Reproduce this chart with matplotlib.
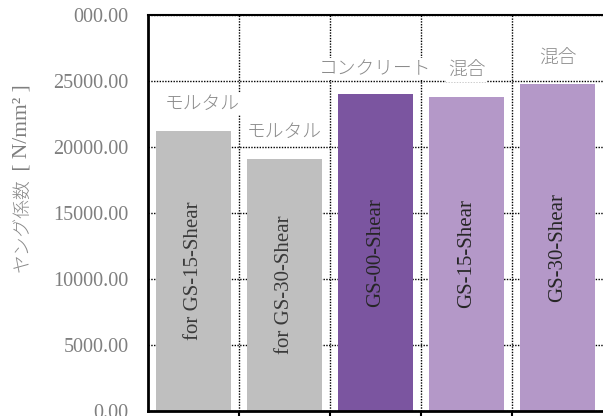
import matplotlib.pyplot as plt
import numpy as np

# data
names = ['for GS-15-Shear', 'for GS-30-Shear', 'GS-00-Shear', 'GS-15-Shear', 'GS-30-Shear']
values = [21200, 19100, 24000, 23800, 24800]
materials = ['モルタル', 'モルタル', 'コンクリート', '混合', '混合']
yticks = [0, 5000, 10000, 15000, 20000, 25000, 30000]
ytick_labels = ['0.00', '5000.00', '10000.00', '15000.00', '20000.00', '25000.00', '000.00']
ylabel_jp = 'ヤング係数'
ylabel_unit = ' [ N/mm² ]'

colors = ['#BFBFBF', '#BFBFBF', '#7B55A0', '#B498C8', '#B498C8']
text_colors = ['#3A3A3A', '#3A3A3A', '#262626', '#262626', '#262626']
label_offsets = [(6, 19.5), (0, 19.5), (0, 18), (0, 19), (0, 18)]  # points

serif = ['Liberation Serif', 'Noto Sans CJK JP']
cjk = ['Noto Sans CJK JP', 'DejaVu Sans']

fig = plt.figure(figsize=(6.03, 4.16), dpi=100)
ax = fig.add_axes([148 / 603, 5 / 416, 455 / 603, 396 / 416])

x = np.arange(len(values))
ax.bar(x, values, width=0.835, color=colors, zorder=2)

ax.set_xlim(-0.5, 4.5)
ax.set_ylim(0, 30000)

ax.set_yticks(yticks)
ax.set_yticklabels(ytick_labels, family=serif, fontsize=14.5, color='#7F7F7F')
ax.tick_params(axis='y', length=0, pad=14)

ax.set_xticks([])
ax.set_xticks(np.arange(0.5, 4.5, 1), minor=True)
ax.tick_params(axis='x', which='minor', direction='out', length=5, width=1.5, color='black')
ax.set_xticklabels([], minor=True)

ax.grid(axis='y', which='major', color='black', linestyle=(0, (1, 1)), linewidth=1, zorder=0)
ax.grid(axis='x', which='minor', color='black', linestyle=(0, (1, 1)), linewidth=1, zorder=0)
ax.set_axisbelow(True)

for s in ['left', 'bottom']:
    ax.spines[s].set_linewidth(2)
ax.spines['top'].set_linewidth(1.5)
ax.spines['right'].set_visible(False)

for i, (v, nm, mat) in enumerate(zip(values, names, materials)):
    ax.text(i, v / 2, nm, rotation=90, ha='center', va='center',
            family=serif, fontsize=15, color=text_colors[i], zorder=3)
    dx, dy = label_offsets[i]
    ax.annotate(mat, (i, v), xytext=(dx, dy), textcoords='offset points',
                ha='center', va='center', family=cjk, fontsize=13.5,
                color='#8A8A8A', zorder=4, fontweight='light',
                bbox=dict(facecolor='white', edgecolor='none', pad=1.5))

# y label: Japanese part and the unit part drawn one after the other
fig.text(0.037, 1 - 272 / 416, ylabel_jp, rotation=90, ha='center', va='bottom',
         family=cjk, fontsize=13.5, color='#8A8A8A', fontweight='light')
fig.text(0.037, 1 - 176 / 416, ylabel_unit, rotation=90, ha='center', va='bottom',
         family=serif, fontsize=15.5, color='#7F7F7F')

fig.savefig('out.png', dpi=100)
